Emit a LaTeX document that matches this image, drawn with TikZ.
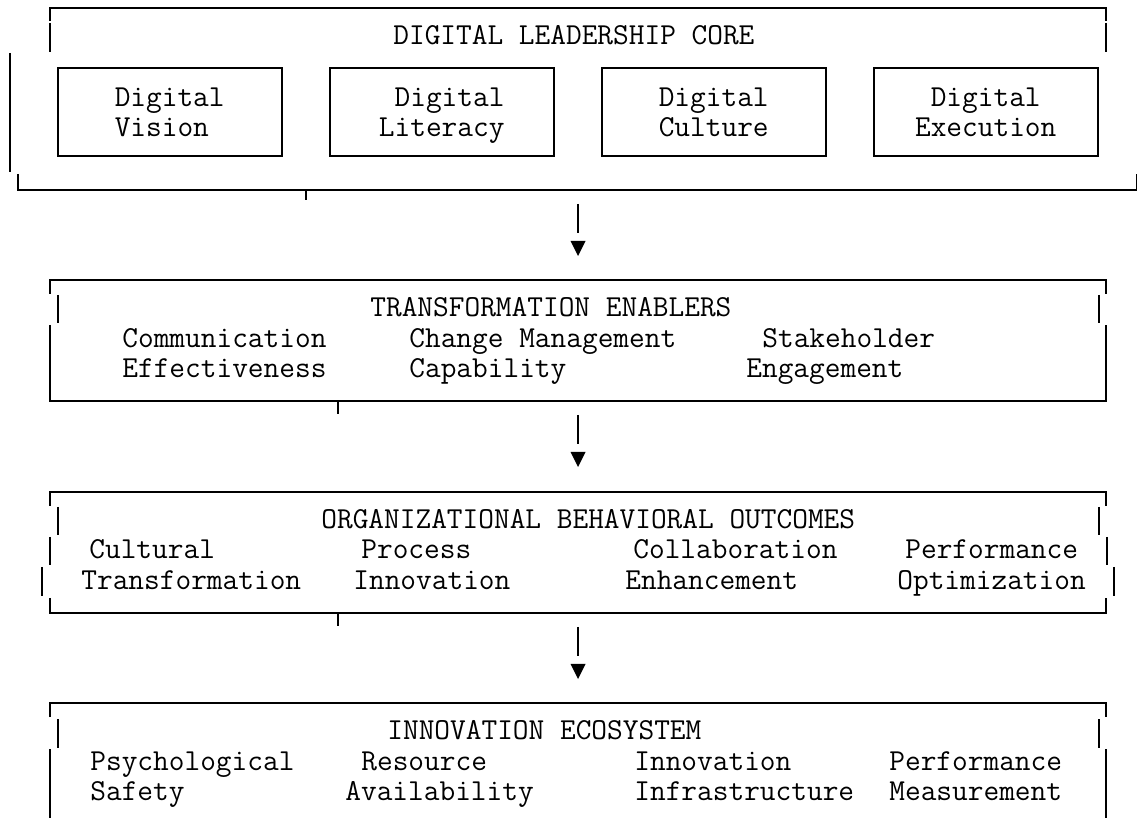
\documentclass[tikz,border=0pt]{standalone}
\usetikzlibrary{positioning}

\begin{document}
\begin{tikzpicture}[
        x=0.5pt, y=-0.5pt,
        frame/.style = {draw, line width=1pt},
        stem/.style = {draw, line width=0.8pt},
        txt/.style = {anchor=base west, inner sep=0pt, font=\ttfamily\fontsize{15.24}{15}\selectfont},
        pillar/.style = {rectangle, draw, line width=1pt, minimum width=112pt, minimum height=44pt, inner sep=0pt, align=left, text depth=0pt, font=\ttfamily\fontsize{15.24}{15}\selectfont}
    ]
    \useasboundingbox (0,0) rectangle (1137,818);

    % digital leadership core
    \draw[frame] (50,21) -- (50,8) -- (1106,8) -- (1106,21);
    \draw[frame] (50,23) -- (50,52);
    \draw[frame] (1106,23) -- (1106,52);
    \draw[frame] (10,53) -- (10,172);
    \draw[frame] (18,174) -- (18,190) -- (1137,190) -- (1137,174);
    \draw[frame] (306,190) -- (306,200);
    \node[txt] (coretitle) at (393,45) {DIGITAL LEADERSHIP CORE};

    \node[pillar] (vision) at (169.7,112) {Digital\\Vision};
    \node[pillar, right=23pt of vision] (literacy) {\hphantom{D}Digital\\Literacy};
    \node[pillar, right=23pt of literacy] (culture) {Digital\\Culture};
    \node[pillar, right=23pt of culture] (execution) {\hphantom{D}Digital\\Execution};

    \coordinate (s1a) at (578,204);
    \coordinate (s1b) at (578,233);
    \path[stem] (s1a) -- (s1b);
    \fill (570.5,241) -- (585.5,241) -- (578,256) -- cycle;

    % transformation enablers
    \draw[frame] (50,294) -- (50,280) -- (1106,280) -- (1106,294);
    \draw[frame] (58,295) -- (58,323);
    \draw[frame] (1099,295) -- (1099,323);
    \draw[frame] (50,325) -- (50,401) -- (1106,401) -- (1106,325);
    \draw[frame] (338,401) -- (338,414);
    \node[txt] (enablers) at (370,317) {TRANSFORMATION ENABLERS};
    \node[txt] (comm1) at (122,348) {Communication};
    \node[txt] (comm2) at (122,378) {Effectiveness};
    \node[txt] (change1) at (409,348) {Change Management};
    \node[txt] (change2) at (409,378) {Capability};
    \node[txt] (stake1) at (762,348) {Stakeholder};
    \node[txt] (stake2) at (746,378) {Engagement};

    \coordinate (s2a) at (578,415);
    \coordinate (s2b) at (578,444);
    \path[stem] (s2a) -- (s2b);
    \fill (570.5,452) -- (585.5,452) -- (578,467) -- cycle;

    % organizational behavioral outcomes
    \draw[frame] (50,506) -- (50,492) -- (1106,492) -- (1106,506);
    \draw[frame] (58,507) -- (58,535);
    \draw[frame] (1099,507) -- (1099,535);
    \draw[frame] (50,537) -- (50,565);
    \draw[frame] (1107,537) -- (1107,565);
    \draw[frame] (42,567) -- (42,596);
    \draw[frame] (1114,567) -- (1114,596);
    \draw[frame] (50,598) -- (50,613) -- (1106,613) -- (1106,598);
    \draw[frame] (338,613) -- (338,626);
    \node[txt] (outcomes) at (321,529) {ORGANIZATIONAL BEHAVIORAL OUTCOMES};
    \node[txt] (cult1) at (89,559) {Cultural};
    \node[txt] (cult2) at (81,589) {Transformation};
    \node[txt] (proc1) at (361,559) {Process};
    \node[txt] (proc2) at (353,589) {Innovation};
    \node[txt] (collab1) at (633,559) {Collaboration};
    \node[txt] (collab2) at (625,589) {Enhancement};
    \node[txt] (perf1) at (905,559) {Performance};
    \node[txt] (perf2) at (897,589) {Optimization};

    \coordinate (s3a) at (578,627);
    \coordinate (s3b) at (578,656);
    \path[stem] (s3a) -- (s3b);
    \fill (570.5,664) -- (585.5,664) -- (578,679) -- cycle;

    % innovation ecosystem
    \draw[frame] (50,717) -- (50,703) -- (1106,703) -- (1106,717);
    \draw[frame] (58,719) -- (58,748);
    \draw[frame] (1099,719) -- (1099,748);
    \draw[frame] (50,749) -- (50,818);
    \draw[frame] (1106,749) -- (1106,818);
    \node[txt] (ecosystem) at (387,740) {INNOVATION ECOSYSTEM};
    \node[txt] (psych1) at (90,770) {Psychological};
    \node[txt] (psych2) at (90,800) {Safety};
    \node[txt] (res1) at (361,770) {Resource};
    \node[txt] (res2) at (345,800) {Availability};
    \node[txt] (infra1) at (634,770) {Innovation};
    \node[txt] (infra2) at (634,800) {Infrastructure};
    \node[txt] (meas1) at (889,770) {Performance};
    \node[txt] (meas2) at (889,800) {Measurement};

\end{tikzpicture}
\end{document}
